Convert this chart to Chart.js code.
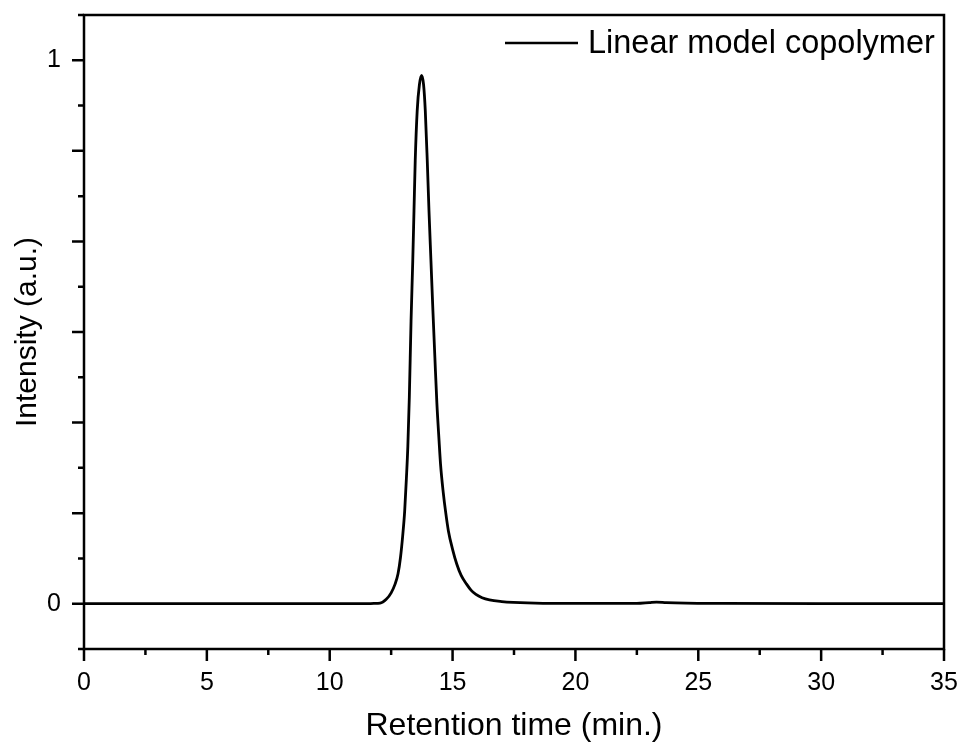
<!DOCTYPE html>
<html>
<head>
<meta charset="utf-8">
<script src="https://cdn.jsdelivr.net/npm/chart.js@4.4.1/dist/chart.umd.min.js"></script>
<style>
  html, body { margin: 0; padding: 0; background: #fff; }
  #wrap { width: 963px; height: 749px; }
</style>
</head>
<body>
<div id="wrap"><canvas id="gpc-chart"></canvas></div>
<script>
const tempos = [0, 2, 5, 8, 10, 11.5, 11.8, 12.05, 12.3, 12.5, 12.66, 12.78, 12.88, 12.97, 13.05, 13.12, 13.18, 13.24,
  13.31, 13.38, 13.43, 13.48, 13.56, 13.65, 13.74, 13.82, 13.89, 13.97, 14.04, 14.12, 14.20, 14.28, 14.36, 14.45,
  14.51, 14.62, 14.72, 14.83, 15.0, 15.17, 15.35, 15.57, 15.75, 15.95, 16.2, 16.5, 17.0, 17.47, 18.68, 20, 22.5,
  23.0, 23.3, 23.7, 24.5, 26, 30, 35];
const intensidade = [0, 0, 0, 0, 0, 0, 0.0005, 0.001, 0.008, 0.02, 0.036, 0.055, 0.085, 0.125, 0.17, 0.23, 0.29, 0.38,
  0.52, 0.631, 0.723, 0.815, 0.907, 0.955, 0.972, 0.955, 0.907, 0.815, 0.723, 0.631, 0.539, 0.453, 0.37, 0.30,
  0.257, 0.205, 0.168, 0.134, 0.10, 0.073, 0.052, 0.036, 0.025, 0.017, 0.011, 0.007, 0.004, 0.0025, 0.0008, 0.0005, 0.0005,
  0.002, 0.003, 0.002, 0.001, 0.0005, 0, 0];

const xMajor = [0, 5, 10, 15, 20, 25, 30, 35];
const xMinor = [2.5, 7.5, 12.5, 17.5, 22.5, 27.5, 32.5];
const yLabels = [0, 1];
const yMajor = [0, 1/6, 2/6, 3/6, 4/6, 5/6, 1];
const yMinor = [-1/12, 1/12, 3/12, 5/12, 7/12, 9/12, 11/12, 13/12];

const fonte = '"Liberation Sans", Arial, sans-serif';

// moldura, marcas e legenda
const moldura = {
  id: 'moldura',
  afterDraw(chart) {
    const c = chart.ctx;
    const a = chart.chartArea;
    const sx = chart.scales.x, sy = chart.scales.y;
    c.save();
    c.strokeStyle = '#000';
    c.lineWidth = 2.5;
    c.strokeRect(a.left, a.top, a.right - a.left, a.bottom - a.top);
    c.beginPath();
    xMajor.forEach(v => { const p = sx.getPixelForValue(v); c.moveTo(p, a.bottom); c.lineTo(p, a.bottom + 12); });
    xMinor.forEach(v => { const p = sx.getPixelForValue(v); c.moveTo(p, a.bottom); c.lineTo(p, a.bottom + 6); });
    yMajor.forEach(v => { const p = sy.getPixelForValue(v); c.moveTo(a.left, p); c.lineTo(a.left - 12, p); });
    yMinor.forEach(v => { const p = sy.getPixelForValue(v); c.moveTo(a.left, p); c.lineTo(a.left - 6, p); });
    c.stroke();

    // legenda
    const ly = a.top + 28;
    c.lineWidth = 2.5;
    c.beginPath();
    c.moveTo(505, ly);
    c.lineTo(578, ly);
    c.stroke();
    c.fillStyle = '#000';
    c.font = '32.5px ' + fonte;
    c.textBaseline = 'middle';
    c.textAlign = 'left';
    c.fillText(chart.data.datasets[0].label, 588, ly + 1);
    c.restore();
  }
};

function semPadding(s) {
  s.paddingTop = 0;
  s.paddingBottom = 0;
  s.paddingLeft = 0;
  s.paddingRight = 0;
}

const ctx = document.getElementById('gpc-chart').getContext('2d');
new Chart(ctx, {
  type: 'line',
  data: {
    datasets: [{
      label: 'Linear model copolymer',
      data: tempos.map((t, i) => ({ x: t, y: intensidade[i] })),
      borderColor: '#000',
      borderWidth: 2.8,
      pointRadius: 0,
      cubicInterpolationMode: 'monotone',
      fill: false
    }]
  },
  options: {
    responsive: true,
    maintainAspectRatio: false,
    animation: false,
    layout: { padding: { top: 15, right: 19, left: 0, bottom: 0 } },
    plugins: {
      legend: { display: false },
      tooltip: { enabled: false }
    },
    scales: {
      x: {
        type: 'linear',
        min: 0,
        max: 35,
        afterFit: s => { s.height = 100; semPadding(s); },
        afterBuildTicks: s => { s.ticks = xMajor.map(v => ({ value: v })); },
        grid: { display: false },
        border: { display: false },
        ticks: {
          color: '#000',
          font: { family: fonte, size: 25 },
          padding: 11,
          maxRotation: 0,
          callback: v => String(v)
        },
        title: {
          display: true,
          text: 'Retention time (min.)',
          color: '#000',
          font: { family: fonte, size: 32 },
          padding: { top: 6 }
        }
      },
      y: {
        min: -1/12,
        max: 13/12,
        afterFit: s => { s.width = 84; semPadding(s); },
        afterBuildTicks: s => { s.ticks = yLabels.map(v => ({ value: v })); },
        grid: { display: false },
        border: { display: false },
        ticks: {
          color: '#000',
          font: { family: fonte, size: 25 },
          padding: 15,
          callback: v => String(v)
        },
        title: {
          display: true,
          text: 'Intensity (a.u.)',
          color: '#000',
          font: { family: fonte, size: 30 },
          padding: { top: 10, bottom: 0 }
        }
      }
    }
  },
  plugins: [moldura]
});
</script>
</body>
</html>
